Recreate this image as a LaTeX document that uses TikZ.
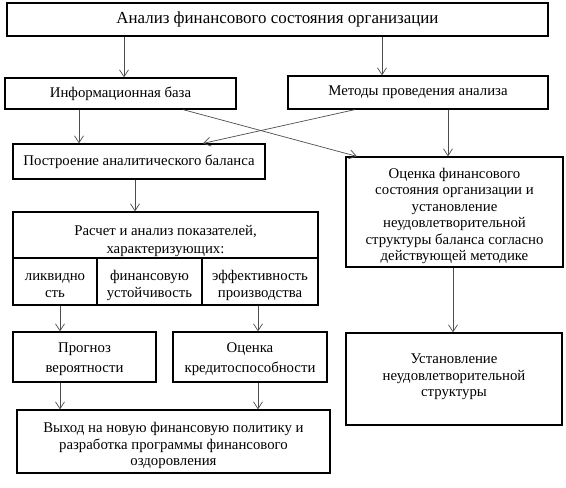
\documentclass[tikz,border=0pt]{standalone}
\usepackage{fontspec}
\setmainfont{Liberation Serif}
\usetikzlibrary{arrows.meta,calc}
\begin{document}
\begin{tikzpicture}[x=1pt,y=-1pt,
  box/.style={draw=black,line width=1.2pt,inner sep=1pt,align=center,font=\fontsize{14.8}{16.6}\selectfont},
  txt/.style={inner sep=0pt,align=center,font=\fontsize{14.8}{16.6}\selectfont},
  arr/.style={draw=black!70,line width=0.7pt,-{Straight Barb[length=7pt,width=9pt]}}]
\useasboundingbox (0,0) rectangle (566,488);
\node[box,minimum width=541pt,minimum height=33pt,font=\fontsize{16.9}{19}\selectfont] (top) at (277.5,19.5) {Анализ финансового состояния организации};
\node[box,minimum width=231pt,minimum height=31pt] (info) at (120.5,93.5) {Информационная база};
\node[box,minimum width=260pt,minimum height=33pt] (meth) at (418,92.5) {Методы проведения анализа};
\node[box,minimum width=252pt,minimum height=35pt] (postr) at (139,161.5) {Построение аналитического баланса};
\node[box,minimum width=305pt,minimum height=46pt] (rasch) at (165.5,235) {};
\node[txt,font=\fontsize{14.8}{18}\selectfont] (raschT) at (165.5,241.5) {Расчет и анализ показателей,\\характеризующих:};
\node[box,minimum width=84pt,minimum height=47pt] (liq) at (55,281.5) {};
\node[txt] (liqT) at (55,285.5) {ликвидно\\сть};
\node[box,minimum width=105pt,minimum height=47pt] (fin) at (149.5,281.5) {};
\node[txt] (finT) at (149.5,285.5) {финансовую\\устойчивость};
\node[box,minimum width=116pt,minimum height=47pt] (eff) at (260,281.5) {};
\node[txt] (effT) at (260,285.5) {эффективность\\производства};
\node[box,minimum width=217pt,minimum height=110pt] (ocen) at (454.5,212) {};
\node[txt,font=\fontsize{14.8}{16.4}\selectfont] (ocenT) at (454.5,216) {Оценка финансового\\состояния организации и\\установление\\неудовлетворительной\\структуры баланса согласно\\действующей методике};
\node[box,minimum width=216pt,minimum height=92pt] (ust) at (454,379) {};
\node[txt] (ustT) at (454,377) {Установление\\неудовлетворительной\\структуры};
\node[box,minimum width=143pt,minimum height=50pt] (progn) at (84.5,357) {};
\node[txt,font=\fontsize{14.8}{20}\selectfont] (prognT) at (84.5,359) {Прогноз\\вероятности};
\node[box,minimum width=154pt,minimum height=50pt] (kred) at (250,357) {};
\node[txt,font=\fontsize{14.8}{20}\selectfont] (kredT) at (250,359) {Оценка\\кредитоспособности};
\node[box,minimum width=313pt,minimum height=63pt] (out) at (173.5,441.5) {};
\node[txt] (outT) at (173.5,445.5) {Выход на новую финансовую политику и\\разработка программы финансового\\оздоровления};
\draw[arr] ([xshift=3.5pt]info.north |- top.south) -- ([xshift=3.5pt]info.north);
\draw[arr] ([xshift=-36pt]meth.north |- top.south) -- ([xshift=-36pt]meth.north);
\draw[arr] ([xshift=-60pt]postr.north |- info.south) -- ([xshift=-60pt]postr.north);
\draw[arr] ([xshift=62.5pt]info.south) -- ([xshift=-97.5pt]ocen.north);
\draw[arr] ([xshift=-63pt]meth.south) -- ([xshift=64pt]postr.north);
\draw[arr] ([xshift=30pt]meth.south) -- ([xshift=-6.5pt]ocen.north);
\draw[arr] ([xshift=-30.5pt]rasch.north |- postr.south) -- ([xshift=-30.5pt]rasch.north);
\draw[arr] ([xshift=5pt]liq.south) -- ([xshift=-24.5pt]progn.north);
\draw[arr] ([xshift=-2pt]eff.south) -- ([xshift=8pt]kred.north);
\draw[arr] ([xshift=-1.5pt]ocen.south) -- ([xshift=-1pt]ust.north);
\draw[arr] ([xshift=-24.5pt]progn.south) -- ([xshift=-113.5pt]out.north);
\draw[arr] ([xshift=8pt]kred.south) -- ([xshift=84.5pt]out.north);
\end{tikzpicture}
\end{document}
